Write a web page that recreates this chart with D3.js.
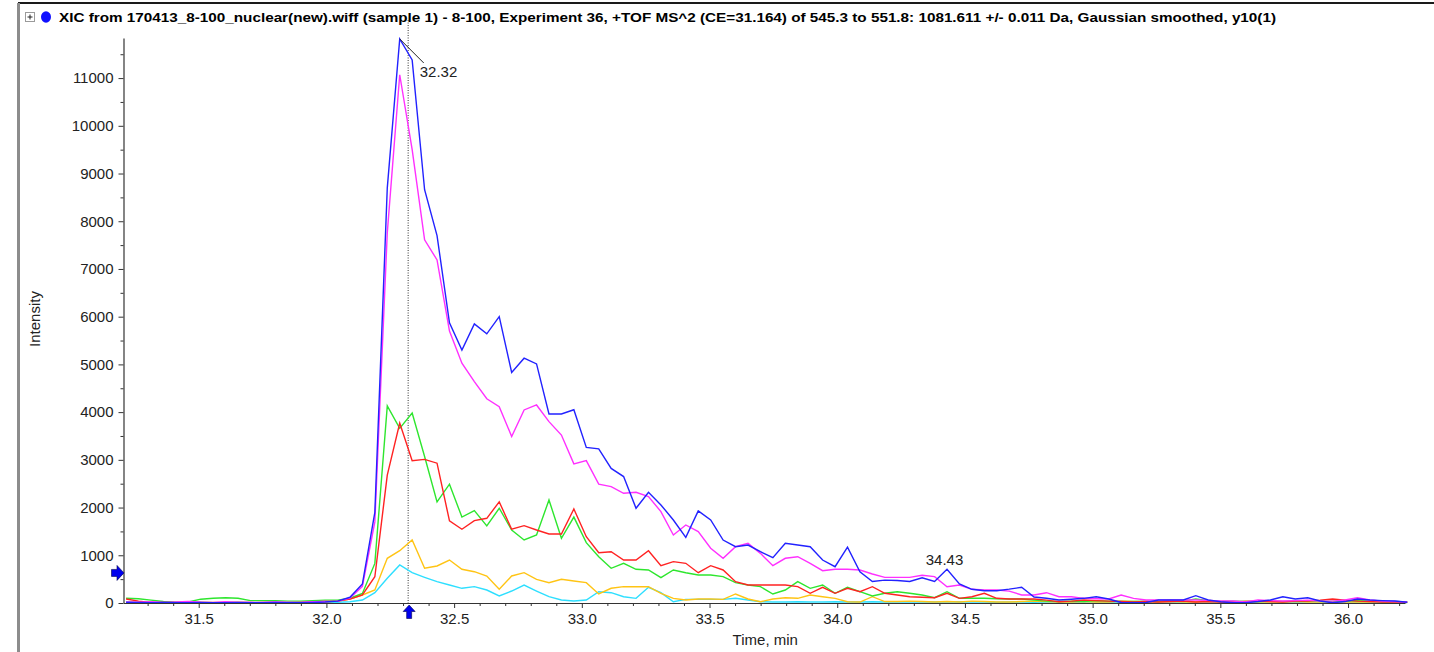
<!DOCTYPE html>
<html>
<head>
<meta charset="utf-8">
<script src="https://cdn.jsdelivr.net/npm/d3@7"></script>
<style>
  html, body { margin: 0; padding: 0; background: #fff; }
  svg { display: block; font-family: "Liberation Sans", Arial, sans-serif; }
</style>
</head>
<body>
<svg id="chart" width="1434" height="652"></svg>
<script>
// Scan timing (minutes): first scan and cycle time
const scanStart = 31.2156;
const scanStep = 0.0487;

// Extracted-ion traces, one intensity per scan
const blueTrace = [15,10,5,10,5,5,10,5,5,10,5,5,10,5,5,10,20,40,
  120,400,1900,8700,11820,11380,8660,7700,5870,5300,5850,5640,6000,4830,5130,5010,3960,3960,4050,3260,3230,2820,2650,1985,
  2320,2055,1740,1377,1930,1740,1320,1180,1215,1075,950,1250,1215,1180,900,760,1170,655,450,480,470,450,530,450,705,
  400,287,258,258,290,329,125,100,63,80,98,132,84,10,5,10,63,63,63,153,63,27,5,5,30,63,132,84,111,42,5,30,84,63,50,42,15];

const magentaTrace = [20,15,25,10,20,30,15,10,25,10,15,10,20,15,10,25,30,40,
  100,350,1700,7760,11070,9500,7610,7190,5700,5025,4640,4280,4115,3490,4045,4150,3800,3520,2915,2985,2490,2440,2300,2320,
  2230,1915,1425,1635,1495,1147,937,1180,1250,1040,782,937,970,832,677,706,706,692,608,538,538,538,580,552,342,
  377,287,272,272,250,168,168,216,132,132,98,90,84,168,98,63,63,63,63,63,55,42,42,20,63,50,42,50,60,42,40,63,111,63,40,30,20];

const greenTrace = [100,90,60,30,20,20,80,100,110,100,50,50,50,40,40,50,60,60,
  100,200,830,4130,3660,3980,3070,2120,2490,1800,1935,1615,1985,1530,1320,1425,2160,1356,1800,1265,970,727,832,706,
  692,530,692,635,587,587,552,426,377,342,189,272,447,308,377,203,329,237,147,203,237,203,168,111,237,
  98,98,98,90,84,84,60,40,30,40,30,50,40,30,30,40,30,60,40,84,50,30,40,30,30,40,30,40,50,40,30,40,50,40,30,30,20];

const redTrace = [84,40,10,10,5,10,10,5,10,10,5,10,10,5,10,20,30,40,
  80,168,550,2680,3770,2980,3010,2930,1720,1545,1725,1775,2120,1545,1620,1530,1447,1447,1970,1390,1055,1075,900,900,
  1096,782,866,832,635,782,692,447,377,377,377,377,342,203,329,203,308,237,342,203,168,132,119,111,203,
  98,132,203,98,84,84,84,60,27,40,63,50,40,30,20,30,20,30,40,20,30,20,20,30,40,30,20,40,42,60,84,60,40,30,20,20,15];

const yellowTrace = [10,10,5,10,10,5,10,10,5,10,10,5,10,10,5,10,20,40,
  80,168,272,937,1096,1320,727,776,900,706,656,566,287,566,635,496,426,496,461,426,189,308,342,342,
  342,203,98,63,84,84,77,189,84,27,84,111,98,168,132,98,27,20,132,30,30,40,
  30,20,30,20,40,30,20,20,30,40,30,20,20,30,20,20,40,30,20,20,30,20,20,30,20,20,30,20,20,20,30,20,20,30,20,20,20,30,20,10];

const cyanTrace = [5,5,5,5,5,5,5,5,5,5,5,5,5,5,5,5,10,15,
  27,63,216,518,797,635,538,447,377,308,342,272,147,251,377,251,132,63,42,63,237,216,132,98,
  329,216,27,77,77,77,77,98,63,27,
  20,20,25,20,20,25,20,20,25,20,20,20,25,20,20,25,20,20,15,20,20,15,20,20,15,20,20,15,20,20,
  15,20,20,15,20,20,15,20,20,15,20,20,15,20,20,15,20,20,15,20,15,10];

const seriesNames = ["cyan", "yellow", "green", "red", "magenta", "blue"];
const seriesValues = [cyanTrace, yellowTrace, greenTrace, redTrace, magentaTrace, blueTrace];
const seriesColors = ["#2edfff", "#ffc414", "#2ee62e", "#ff2222", "#ff30ff", "#2222ff"];

// Axes
const xDomain = [31.2055, 36.223];
const yDomain = [0, 11840];
const xTickValues = [31.5, 32.0, 32.5, 33.0, 33.5, 34.0, 34.5, 35.0, 35.5, 36.0];
const xMinorTicks = [31.3,31.4,31.6,31.7,31.8,31.9,32.1,32.2,32.3,32.4,32.6,32.7,32.8,32.9,
  33.1,33.2,33.3,33.4,33.6,33.7,33.8,33.9,34.1,34.2,34.3,34.4,34.6,34.7,34.8,34.9,
  35.1,35.2,35.3,35.4,35.6,35.7,35.8,35.9,36.1,36.2];
const yTickValues = [0,1000,2000,3000,4000,5000,6000,7000,8000,9000,10000,11000];
const yMinorTicks = [500,1500,2500,3500,4500,5500,6500,7500,8500,9500,10500,11500];

// Annotations
const peakLabels = [32.32, 34.43];
const cursorTime = 32.32;
const thresholdLevel = 630;
const titleText = "XIC from 170413_8-100_nuclear(new).wiff (sample 1) - 8-100, Experiment 36, +TOF MS^2 (CE=31.164) of 545.3 to 551.8: 1081.611 +/- 0.011 Da, Gaussian smoothed, y10(1)";
const xAxisTitle = "Time, min";
const yAxisTitle = "Intensity";

const svg = d3.select("#chart");
const plot = { left: 123.5, right: 1405, top: 38, bottom: 603 };

const x = d3.scaleLinear().domain(xDomain).range([plot.left, plot.right]);
const y = d3.scaleLinear().domain(yDomain).range([plot.bottom, plot.top]);
const scanTime = i => scanStart + i * scanStep;

// Window frame
svg.append("line").attr("x1", 18).attr("x2", 1434).attr("y1", 3).attr("y2", 3)
  .attr("stroke", "#1a1a1a").attr("stroke-width", 2);
svg.append("line").attr("x1", 18.5).attr("x2", 18.5).attr("y1", 3).attr("y2", 652)
  .attr("stroke", "#8c8c8c").attr("stroke-width", 3);

// Title row
const head = svg.append("g");
head.append("rect").attr("x", 25.5).attr("y", 12.5).attr("width", 9).attr("height", 9)
  .attr("fill", "none").attr("stroke", "#9a9a9a");
head.append("path").attr("d", "M27.5,17H32.5M30,14.5V19.5").attr("stroke", "#222").attr("stroke-width", 1);
head.append("ellipse").attr("cx", 46).attr("cy", 17).attr("rx", 5).attr("ry", 5.8).attr("fill", "#1010ff");
head.append("text").attr("x", 59).attr("y", 22)
  .attr("font-size", 13.5).attr("font-weight", "bold").attr("fill", "#000")
  .attr("textLength", 1217).attr("lengthAdjust", "spacingAndGlyphs")
  .text(titleText);

// Cursor at the labelled apex
svg.append("line")
  .attr("x1", x(cursorTime)).attr("x2", x(cursorTime))
  .attr("y1", 20).attr("y2", plot.bottom)
  .attr("stroke", "#333").attr("stroke-width", 1).attr("stroke-dasharray", "1,1.5");

// Traces
const line = d3.line()
  .x((d, i) => x(scanTime(i)))
  .y(d => y(d));

svg.append("g").selectAll("path")
  .data(seriesValues)
  .join("path")
  .attr("class", (d, i) => "trace " + seriesNames[i])
  .attr("fill", "none")
  .attr("stroke", (d, i) => seriesColors[i])
  .attr("stroke-width", 1.4)
  .attr("stroke-linejoin", "miter")
  .attr("d", line);

// Axes
const axisColor = "#333";
const labelColor = "#222";
const tickFont = 15;

const yAxis = svg.append("g").attr("transform", `translate(${plot.left},0)`)
  .call(d3.axisLeft(y).tickValues(yTickValues).tickSize(5).tickSizeOuter(0).tickPadding(5).tickFormat(d3.format("d")));
const yMinor = svg.append("g").attr("transform", `translate(${plot.left},0)`)
  .call(d3.axisLeft(y).tickValues(yMinorTicks).tickSize(3).tickSizeOuter(0).tickFormat(""));
yMinor.select(".domain").remove();

const xAxis = svg.append("g").attr("transform", `translate(0,${plot.bottom})`)
  .call(d3.axisBottom(x).tickValues(xTickValues).tickSize(5).tickSizeOuter(0).tickPadding(5).tickFormat(d3.format(".1f")));
const xMinor = svg.append("g").attr("transform", `translate(0,${plot.bottom})`)
  .call(d3.axisBottom(x).tickValues(xMinorTicks).tickSize(3).tickSizeOuter(0).tickFormat(""));
xMinor.select(".domain").remove();

[yAxis, yMinor, xAxis, xMinor].forEach(g => {
  g.selectAll("line").attr("stroke", axisColor);
  g.selectAll(".domain").attr("stroke", axisColor).attr("stroke-width", 1.2);
  g.selectAll("text").attr("font-size", tickFont).attr("fill", labelColor)
    .attr("font-family", "\"Liberation Sans\", Arial, sans-serif");
});

// Axis titles
svg.append("text").attr("x", (plot.left + plot.right) / 2 + 1).attr("y", 645)
  .attr("text-anchor", "middle").attr("font-size", tickFont).attr("fill", labelColor)
  .text(xAxisTitle);
svg.append("text").attr("transform", "translate(40,319) rotate(-90)")
  .attr("text-anchor", "middle").attr("font-size", tickFont).attr("fill", labelColor)
  .text(yAxisTitle);

// Peak labels, anchored on the blue apex nearest each labelled time
peakLabels.forEach((t, k) => {
  let best = -1;
  blueTrace.forEach((v, i) => {
    if (Math.abs(scanTime(i) - t) <= 0.05 && (best < 0 || v > blueTrace[best])) best = i;
  });
  const px = x(scanTime(best));
  const py = y(blueTrace[best]);
  const txt = t.toFixed(2);
  if (k === 0) {
    svg.append("line").attr("x1", px).attr("y1", py).attr("x2", px + 24).attr("y2", py + 24)
      .attr("stroke", "#222").attr("stroke-width", 1);
    svg.append("text").attr("x", px + 20).attr("y", py + 38)
      .attr("font-size", tickFont).attr("fill", labelColor).text(txt);
  } else {
    svg.append("text").attr("x", px - 2.5).attr("y", py - 4)
      .attr("text-anchor", "middle").attr("font-size", tickFont).attr("fill", labelColor).text(txt);
  }
});

// Threshold marker on the intensity axis and cursor marker on the time axis
const ty = y(thresholdLevel);
svg.append("path")
  .attr("d", `M111.5,${ty - 3.5}H117V${ty - 7.5}L124,${ty}L117,${ty + 7.5}V${ty + 3.5}H111.5Z`)
  .attr("fill", "#0000ee").attr("stroke", "#000050").attr("stroke-width", 0.6);
const cx = x(cursorTime) + 1;
svg.append("path")
  .attr("d", `M${cx},605L${cx + 6},611.5H${cx + 2.5}V618.5H${cx - 2.5}V611.5H${cx - 6}Z`)
  .attr("fill", "#0000ee").attr("stroke", "#000050").attr("stroke-width", 0.6);
</script>
</body>
</html>
